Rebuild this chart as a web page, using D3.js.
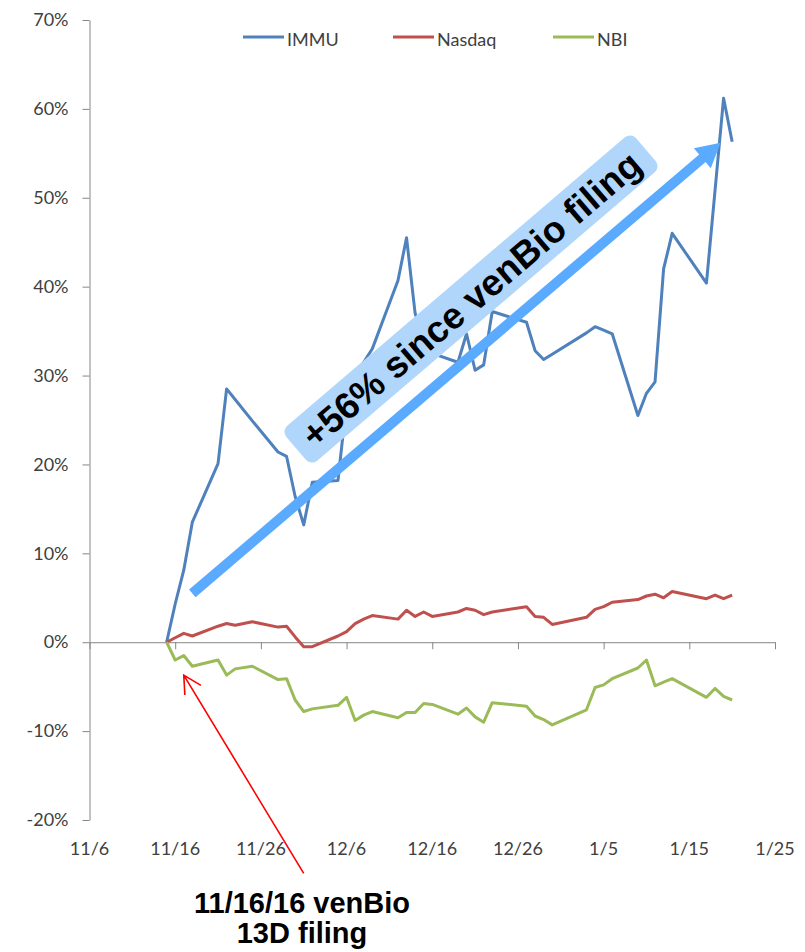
<!DOCTYPE html>
<html>
<head>
<meta charset="utf-8">
<script src="https://cdn.jsdelivr.net/npm/d3@7"></script>
<style>
body { margin: 0; background: #fff; }
svg { display: block; font-family: Lato, "Open Sans", sans-serif; }
</style>
</head>
<body>
<svg id="chart" width="805" height="952"></svg>
<script>
// trading days, % change since 11/15/16 close
const dates = ["2016-11-15","2016-11-16","2016-11-17","2016-11-18","2016-11-21","2016-11-22","2016-11-23","2016-11-25",
  "2016-11-28","2016-11-29","2016-11-30","2016-12-01","2016-12-02","2016-12-05","2016-12-06","2016-12-07","2016-12-08",
  "2016-12-09","2016-12-12","2016-12-13","2016-12-14","2016-12-15","2016-12-16","2016-12-19","2016-12-20","2016-12-21",
  "2016-12-22","2016-12-23","2016-12-27","2016-12-28","2016-12-29","2016-12-30","2017-01-03","2017-01-04","2017-01-05",
  "2017-01-06","2017-01-09","2017-01-10","2017-01-11","2017-01-12","2017-01-13","2017-01-17","2017-01-18","2017-01-19",
  "2017-01-20"];

const immu = [0, 4.3, 8.1, 13.5, 20.1, 28.5, 27.3, 24.9, 21.4, 20.9, 16.4, 13.2, 18.0, 18.2, 27.0, 30.0, 31.5,
  33.0, 40.7, 45.5, 37.0, 34.0, 32.5, 31.5, 34.7, 30.6, 31.2, 37.2, 36.0, 32.8, 31.8, 32.4, 34.8, 35.5, 35.1,
  34.7, 25.5, 28.0, 29.3, 42.0, 46.0, 40.4, 50.8, 61.2, 56.3];

const nasdaq = [0, 0.5, 1.0, 0.7, 1.8, 2.1, 1.9, 2.3, 1.7, 1.8, 0.6, -0.5, -0.5, 0.7, 1.2, 2.1, 2.6,
  3.0, 2.6, 3.6, 2.9, 3.4, 2.9, 3.4, 3.8, 3.6, 3.1, 3.4, 4.0, 2.9, 2.8, 2.0, 2.8, 3.7, 4.0,
  4.5, 4.8, 5.2, 5.4, 5.0, 5.7, 4.9, 5.3, 4.9, 5.3];

const nbi = [0, -2.0, -1.5, -2.7, -2.0, -3.7, -3.0, -2.7, -4.2, -4.1, -6.5, -7.8, -7.5, -7.1, -6.2, -8.8, -8.2,
  -7.8, -8.5, -7.9, -7.9, -6.9, -7.0, -8.1, -7.4, -8.4, -9.0, -6.8, -7.2, -8.3, -8.7, -9.3, -7.6, -5.1, -4.8,
  -4.1, -2.9, -2.0, -4.9, -4.5, -4.1, -6.2, -5.2, -6.1, -6.5];

const xTicks = ["2016-11-06","2016-11-16","2016-11-26","2016-12-06","2016-12-16","2016-12-26","2017-01-05","2017-01-15","2017-01-25"];
const yTicks = [-20, -10, 0, 10, 20, 30, 40, 50, 60, 70];

const seriesNames = ["IMMU", "Nasdaq", "NBI"];
const seriesColors = ["#4F81BD", "#C0504D", "#9BBB59"];
const seriesValues = [immu, nasdaq, nbi];

const parse = d3.timeParse("%Y-%m-%d");
const fmtDay = d3.timeFormat("%-m/%-d");

const svg = d3.select("#chart");
const axisColor = "#868686";
const textColor = "#404040";

const x = d3.scaleTime()
  .domain([parse(xTicks[0]), parse(xTicks[xTicks.length - 1])])
  .range([89.5, 775]);

const y = d3.scaleLinear()
  .domain([-20, 70])
  .range([820, 20]);

// axes
const xAxis = svg.append("g")
  .attr("transform", `translate(0,${y(0)})`)
  .call(d3.axisBottom(x).tickValues(xTicks.map(parse)).tickSize(7).tickSizeOuter(0).tickFormat(""));
xAxis.selectAll(".domain, .tick line").attr("stroke", axisColor);

svg.append("g").selectAll("text")
  .data(xTicks)
  .join("text")
  .attr("x", d => x(parse(d)))
  .attr("y", 855)
  .attr("text-anchor", "middle")
  .attr("font-size", 18)
  .attr("fill", textColor)
  .text(d => fmtDay(parse(d)));

const yAxis = svg.append("g")
  .attr("transform", `translate(${x.range()[0]},0)`)
  .call(d3.axisLeft(y).tickValues(yTicks).tickSize(7).tickSizeOuter(0).tickPadding(14).tickFormat(d => d + "%"));
yAxis.attr("font-family", null).attr("font-size", 18);
yAxis.selectAll(".domain, .tick line").attr("stroke", axisColor);
yAxis.selectAll("text").attr("fill", textColor);

// series
const line = d3.line()
  .x((d, i) => x(parse(dates[i])))
  .y(d => y(d));

seriesValues.forEach((vals, k) => {
  svg.append("path")
    .datum(vals)
    .attr("fill", "none")
    .attr("stroke", seriesColors[k])
    .attr("stroke-width", 3)
    .attr("stroke-linejoin", "round")
    .attr("d", line);
});

// legend
const legendX = [243, 393, 553];
const legend = svg.append("g").selectAll("g")
  .data(seriesNames)
  .join("g")
  .attr("transform", (d, i) => `translate(${legendX[i]},37)`);
legend.append("line")
  .attr("x1", 0).attr("x2", 41)
  .attr("stroke", (d, i) => seriesColors[i])
  .attr("stroke-width", 3);
legend.append("text")
  .attr("x", 44).attr("y", 9)
  .attr("font-size", 18)
  .attr("fill", textColor)
  .text(d => d);

// big blue arrow (11/18 -> 1/19)
const arrowFrom = [x(parse("2016-11-18")), y(5.5)];
const arrowTo = [x(parse("2017-01-19")) - 3, y(56.2)];
const dx = arrowTo[0] - arrowFrom[0], dy = arrowTo[1] - arrowFrom[1];
const len = Math.hypot(dx, dy);
const ux = dx / len, uy = dy / len;
const headLen = 24, headHalf = 13;
const base = [arrowTo[0] - ux * headLen, arrowTo[1] - uy * headLen];

svg.append("line")
  .attr("x1", arrowFrom[0]).attr("y1", arrowFrom[1])
  .attr("x2", base[0] + ux * 2).attr("y2", base[1] + uy * 2)
  .attr("stroke", "#5AAAFF")
  .attr("stroke-width", 10);
svg.append("path")
  .attr("d", `M${arrowTo[0]},${arrowTo[1]}L${base[0] - uy * headHalf},${base[1] + ux * headHalf}L${base[0] + uy * headHalf},${base[1] - ux * headHalf}Z`)
  .attr("fill", "#5AAAFF");

// label box
const box = svg.append("g").attr("transform", "translate(471,299) rotate(-40.5)");
box.append("rect")
  .attr("x", -230).attr("y", -23)
  .attr("width", 460).attr("height", 46)
  .attr("rx", 8)
  .attr("fill", "#B1D6FB");
box.append("text")
  .attr("text-anchor", "middle")
  .attr("dy", "0.36em")
  .attr("font-family", "'Liberation Sans', Arial, sans-serif")
  .attr("font-weight", "bold")
  .attr("font-size", 37)
  .attr("fill", "#000")
  .text("+56% since venBio filing");

// red pointer to filing date
const tip = [x(parse("2016-11-17")), y(-3.7)];
const tail = [x(parse("2016-12-01")), y(-26)];
const ang = Math.atan2(tail[1] - tip[1], tail[0] - tip[0]);
const wing = 20, spread = 28 * Math.PI / 180;
svg.append("path")
  .attr("d", `M${tail[0]},${tail[1]}L${tip[0]},${tip[1]}` +
    `M${tip[0] + wing * Math.cos(ang - spread)},${tip[1] + wing * Math.sin(ang - spread)}L${tip[0]},${tip[1]}` +
    `L${tip[0] + wing * Math.cos(ang + spread)},${tip[1] + wing * Math.sin(ang + spread)}`)
  .attr("fill", "none")
  .attr("stroke", "#FF0000")
  .attr("stroke-width", 1.6);

const note = svg.append("text")
  .attr("text-anchor", "middle")
  .attr("font-family", "'Liberation Sans', Arial, sans-serif")
  .attr("font-weight", "bold")
  .attr("font-size", 29)
  .attr("fill", "#000");
note.append("tspan").attr("x", 302).attr("y", 913).text("11/16/16 venBio");
note.append("tspan").attr("x", 302).attr("y", 943).text("13D filing");
</script>
</body>
</html>
